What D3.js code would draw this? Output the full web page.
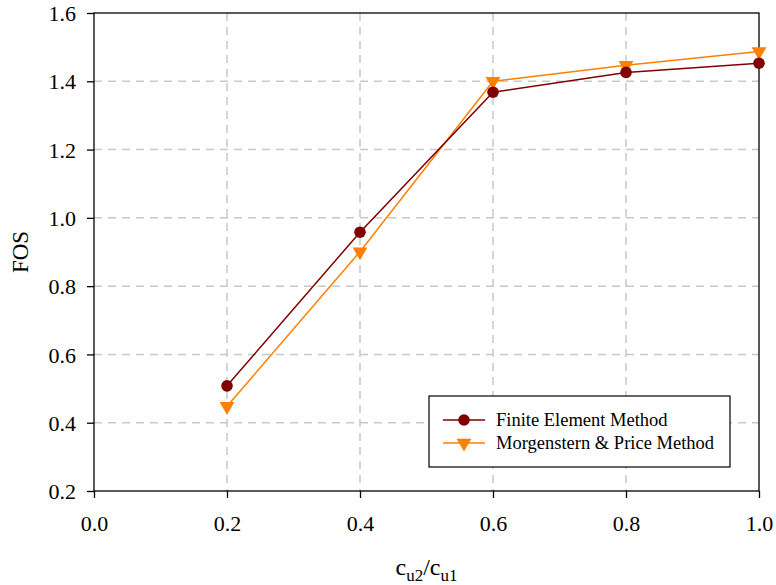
<!DOCTYPE html>
<html>
<head>
<meta charset="utf-8">
<script src="https://cdn.jsdelivr.net/npm/d3@7"></script>
<style>
  body { margin: 0; background: #fff; }
  text { font-family: "Liberation Serif", "Times New Roman", serif; fill: #000; }
</style>
</head>
<body>
<div id="chart"></div>
<script>
// ratio of undrained strengths
const ratios = [0.2, 0.4, 0.6, 0.8, 1.0];
const femFOS = [0.508, 0.958, 1.368, 1.426, 1.453];
const mpFOS = [0.448, 0.901, 1.400, 1.447, 1.487];
const xTicks = [0.0, 0.2, 0.4, 0.6, 0.8, 1.0];
const yTicks = [0.2, 0.4, 0.6, 0.8, 1.0, 1.2, 1.4, 1.6];
const seriesNames = ["Finite Element Method", "Morgenstern & Price Method"];

let config = {
  width: 776,
  height: 585,
  margin: { top: 13, right: 17, bottom: 94, left: 94 },
  femColor: "#800000",
  mpColor: "#ff8000",
  gridColor: "#c8c8c8"
};
config.bodyWidth = config.width - config.margin.left - config.margin.right;
config.bodyHeight = config.height - config.margin.top - config.margin.bottom;

const svg = d3.select("#chart").append("svg")
  .attr("width", config.width)
  .attr("height", config.height);

const body = svg.append("g")
  .attr("transform", `translate(${config.margin.left},${config.margin.top})`);

const x = d3.scaleLinear().domain([0, 1]).range([0, config.bodyWidth]);
const y = d3.scaleLinear().domain([0.2, 1.6]).range([config.bodyHeight, 0]);

// grid
body.selectAll(".vgrid")
  .data(xTicks.slice(1, -1))
  .enter().append("line")
  .attr("x1", d => x(d)).attr("x2", d => x(d))
  .attr("y1", 0).attr("y2", config.bodyHeight)
  .attr("stroke", config.gridColor)
  .attr("stroke-width", 1.5)
  .attr("stroke-dasharray", "8,6");

body.selectAll(".hgrid")
  .data(yTicks.slice(1, -1))
  .enter().append("line")
  .attr("y1", d => y(d)).attr("y2", d => y(d))
  .attr("x1", 0).attr("x2", config.bodyWidth)
  .attr("stroke", config.gridColor)
  .attr("stroke-width", 1.5)
  .attr("stroke-dasharray", "8,6");

// frame
body.append("rect")
  .attr("x", 0).attr("y", 0)
  .attr("width", config.bodyWidth).attr("height", config.bodyHeight)
  .attr("fill", "none")
  .attr("stroke", "#000")
  .attr("stroke-width", 1.3);

// axes
const xAxis = body.append("g")
  .attr("transform", `translate(0,${config.bodyHeight})`)
  .call(d3.axisBottom(x).tickValues(xTicks).tickFormat(d3.format(".1f")).tickSizeOuter(0).tickSizeInner(7).tickPadding(17));
const yAxis = body.append("g")
  .call(d3.axisLeft(y).tickValues(yTicks).tickFormat(d3.format(".1f")).tickSizeOuter(0).tickSizeInner(7).tickPadding(11));

[xAxis, yAxis].forEach(a => {
  a.attr("font-family", null).attr("font-size", null);
  a.select(".domain").remove();
  a.selectAll(".tick line").attr("stroke", "#000").attr("stroke-width", 1.3);
  a.selectAll(".tick text")
    .style("font-family", "'Liberation Serif', 'Times New Roman', serif")
    .style("font-size", "22px")
    .attr("fill", "#000");
});
yAxis.selectAll(".tick text").attr("dy", "0.35em");

// axis titles
svg.append("text")
  .attr("transform", `translate(28,${config.margin.top + config.bodyHeight / 2}) rotate(-90)`)
  .attr("text-anchor", "middle")
  .style("font-size", "23px")
  .text("FOS");

const xTitle = svg.append("text")
  .attr("x", config.margin.left + config.bodyWidth / 2)
  .attr("y", 575)
  .attr("text-anchor", "middle")
  .style("font-size", "24px");
xTitle.append("tspan").text("c");
xTitle.append("tspan").attr("dy", 6).style("font-size", "17px").text("u2");
xTitle.append("tspan").attr("dy", -6).text("/c");
xTitle.append("tspan").attr("dy", 6).style("font-size", "17px").text("u1");

// series
const line = d3.line().x(d => x(d[0])).y(d => y(d[1]));
const femData = ratios.map((r, i) => [r, femFOS[i]]);
const mpData = ratios.map((r, i) => [r, mpFOS[i]]);

const triangle = d3.symbol().type(d3.symbolTriangle).size(95);

body.append("path")
  .attr("d", line(mpData))
  .attr("fill", "none")
  .attr("stroke", config.mpColor)
  .attr("stroke-width", 1.5);

body.append("path")
  .attr("d", line(femData))
  .attr("fill", "none")
  .attr("stroke", config.femColor)
  .attr("stroke-width", 1.5);

body.selectAll(".mp")
  .data(mpData)
  .enter().append("path")
  .attr("d", triangle)
  .attr("transform", d => `translate(${x(d[0])},${y(d[1])}) rotate(180)`)
  .attr("fill", config.mpColor);

body.selectAll(".fem")
  .data(femData)
  .enter().append("circle")
  .attr("cx", d => x(d[0]))
  .attr("cy", d => y(d[1]))
  .attr("r", 5.8)
  .attr("fill", config.femColor);

// legend
const legend = svg.append("g").attr("transform", "translate(429,396)");
legend.append("rect")
  .attr("width", 301).attr("height", 71)
  .attr("fill", "#fff")
  .attr("stroke", "#000")
  .attr("stroke-width", 1.2);

const colors = [config.femColor, config.mpColor];
seriesNames.forEach((name, i) => {
  const g = legend.append("g").attr("transform", `translate(0,${24 + i * 23})`);
  g.append("line")
    .attr("x1", 14).attr("x2", 56)
    .attr("stroke", colors[i]).attr("stroke-width", 1.5);
  if (i === 0) {
    g.append("circle").attr("cx", 35).attr("r", 5.8).attr("fill", colors[i]);
  } else {
    g.append("path").attr("d", triangle).attr("transform", "translate(35,0) rotate(180)").attr("fill", colors[i]);
  }
  g.append("text")
    .attr("x", 67).attr("dy", "0.35em")
    .style("font-size", "18.5px")
    .text(name);
});
</script>
</body>
</html>
